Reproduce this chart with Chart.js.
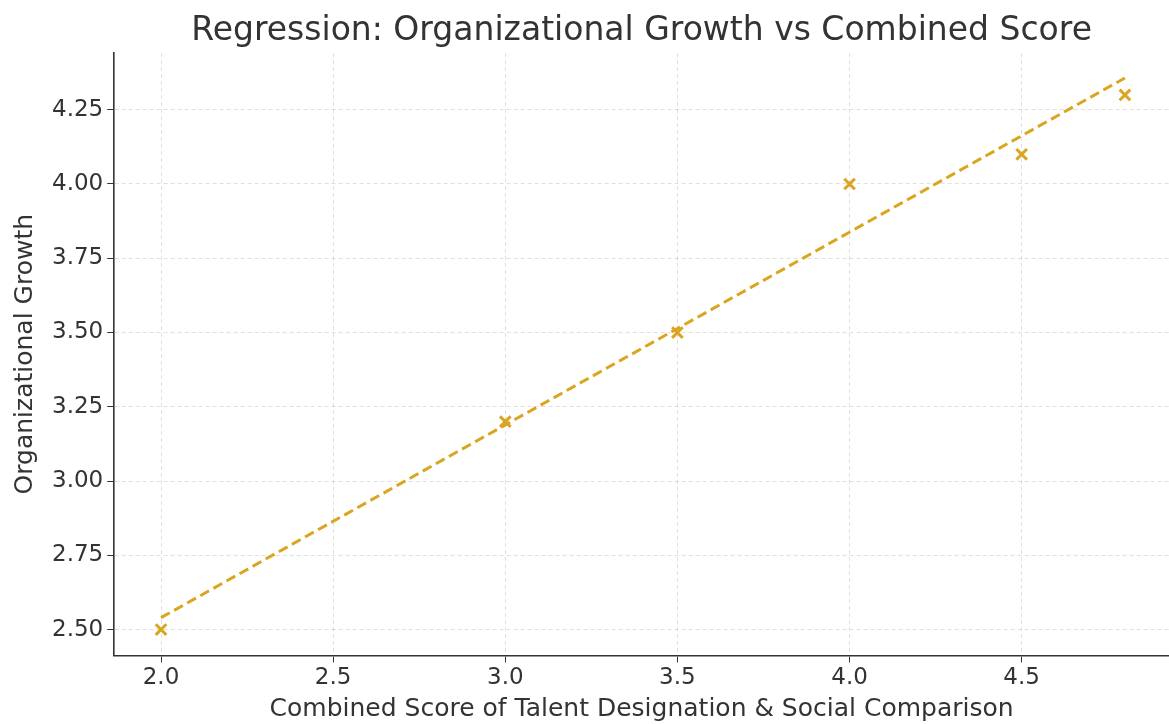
<!DOCTYPE html>
<html>
<head>
<meta charset="utf-8">
<script src="https://cdn.jsdelivr.net/npm/chart.js@4/dist/chart.umd.min.js"></script>
<style>
  html, body { margin: 0; padding: 0; background: #fff; }
  #wrap { width: 1169px; height: 724px; }
</style>
</head>
<body>
<div id="wrap"><canvas id="chart"></canvas></div>
<script>
// observed points
var scoreX = [2.0, 3.0, 3.5, 4.0, 4.5, 4.8];
var growthY = [2.5, 3.2, 3.5, 4.0, 4.1, 4.3];
// fitted line, read at its two ends
var fitX = [2.0, 4.8];
var fitY = [2.54, 4.357];
// tick labels
var xTicks = [2.0, 2.5, 3.0, 3.5, 4.0, 4.5];
var yTicks = [2.5, 2.75, 3.0, 3.25, 3.5, 3.75, 4.0, 4.25];
var chartTitle = 'Regression: Organizational Growth vs Combined Score';

var gold = '#DAA520';
var font = "'DejaVu Sans', sans-serif";

function toPts(xs, ys) {
  var out = [];
  for (var i = 0; i < xs.length; i++) out.push({x: xs[i], y: ys[i]});
  return out;
}

// title centred over the plot area, not the whole canvas
var axesTitle = {
  id: 'axesTitle',
  afterDraw: function (c) {
    var a = c.chartArea, g = c.ctx;
    g.save();
    g.font = '33px ' + font;
    g.fillStyle = '#333';
    g.textAlign = 'center';
    g.textBaseline = 'middle';
    g.fillText(chartTitle, (a.left + a.right) / 2, 31);
    g.restore();
  }
};

var ctx = document.getElementById('chart').getContext('2d');
var chart = new Chart(ctx, {
  type: 'scatter',
  data: {
    datasets: [{
      label: 'Fit',
      data: toPts(fitX, fitY),
      showLine: true,
      borderColor: gold,
      borderWidth: 3,
      borderDash: [10, 5],
      pointRadius: 0,
      fill: false
    }, {
      label: 'Data',
      data: toPts(scoreX, growthY),
      pointStyle: 'crossRot',
      pointRadius: 7.5,
      borderColor: gold,
      backgroundColor: gold,
      pointBorderWidth: 3
    }]
  },
  plugins: [axesTitle],
  options: {
    responsive: true,
    maintainAspectRatio: false,
    animation: false,
    layout: { autoPadding: false, padding: { top: 53, right: 0, left: 10, bottom: 0 } },
    plugins: {
      legend: { display: false },
      tooltip: { enabled: false },
      title: { display: false }
    },
    scales: {
      x: {
        type: 'linear',
        min: 1.864,
        max: 4.928,
        afterBuildTicks: function (s) { s.ticks = xTicks.map(function (v) { return {value: v}; }); },
        ticks: {
          color: '#333',
          font: { family: font, size: 23 },
          padding: 2,
          callback: function (v) { return v.toFixed(1); }
        },
        grid: {
          color: 'rgba(0,0,0,0.12)',
          tickColor: '#333',
          tickLength: 7,
          tickBorderDash: []
        },
        border: { color: '#333', width: 1.6, dash: [4, 3] },
        title: {
          display: true,
          text: 'Combined Score of Talent Designation & Social Comparison',
          color: '#333',
          font: { family: font, size: 25 },
          padding: { top: 0, bottom: 0 }
        }
      },
      y: {
        type: 'linear',
        min: 2.413,
        max: 4.441,
        afterBuildTicks: function (s) { s.ticks = yTicks.map(function (v) { return {value: v}; }); },
        ticks: {
          color: '#333',
          font: { family: font, size: 23 },
          padding: 4,
          callback: function (v) { return v.toFixed(2); }
        },
        grid: {
          color: 'rgba(0,0,0,0.12)',
          tickColor: '#333',
          tickLength: 7,
          tickBorderDash: []
        },
        border: { color: '#333', width: 1.6, dash: [4, 3] },
        title: {
          display: true,
          text: 'Organizational Growth',
          color: '#333',
          font: { family: font, size: 25 },
          padding: { top: 0, bottom: 8 }
        }
      }
    }
  }
});
</script>
</body>
</html>
